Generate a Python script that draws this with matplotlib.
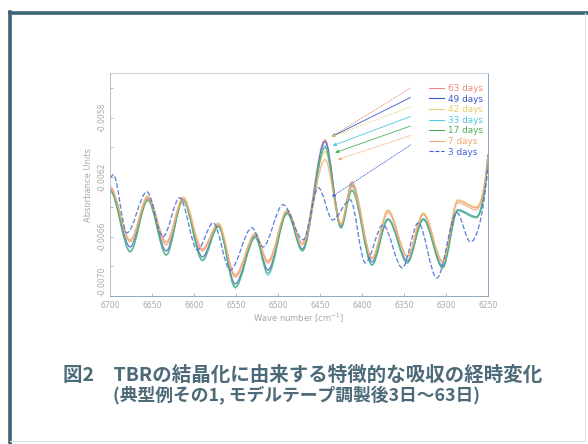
import matplotlib
matplotlib.use("Agg")
import matplotlib.pyplot as plt
from matplotlib.path import Path
from matplotlib.patches import PathPatch
from matplotlib.lines import Line2D
from matplotlib.ticker import MultipleLocator, FixedLocator

# ---------------- data (peak / valley positions) ----------------
WN = [6700, 6676, 6655, 6633, 6613, 6590, 6571, 6551, 6527, 6512, 6489, 6471,
      6444, 6425, 6412, 6388, 6369, 6346, 6327, 6304, 6286, 6264, 6250]

ABS_63 = [-0.006265, -0.006623, -0.006333, -0.006636, -0.006340, -0.006683, -0.006515,
          -0.006858, -0.006582, -0.006764, -0.006427, -0.006643, -0.005949, -0.006515,
          -0.006232, -0.006744, -0.006427, -0.006730, -0.006447, -0.006764, -0.006359,
          -0.006406, -0.006049]
ABS_49 = [-0.006285, -0.006670, -0.006346, -0.006697, -0.006353, -0.006737, -0.006528,
          -0.006919, -0.006595, -0.006825, -0.006440, -0.006683, -0.005962, -0.006528,
          -0.006252, -0.006771, -0.006481, -0.006764, -0.006481, -0.006798, -0.006420,
          -0.006467, -0.006049]
ABS_42 = [-0.006272, -0.006630, -0.006326, -0.006650, -0.006333, -0.006697, -0.006508,
          -0.006872, -0.006575, -0.006778, -0.006420, -0.006649, -0.006029, -0.006515,
          -0.006245, -0.006744, -0.006420, -0.006730, -0.006441, -0.006771, -0.006353,
          -0.006400, -0.006062]
ABS_31 = [-0.006292, -0.006697, -0.006353, -0.006724, -0.006353, -0.006764, -0.006528,
          -0.006946, -0.006602, -0.006859, -0.006440, -0.006696, -0.005989, -0.006541,
          -0.006286, -0.006791, -0.006481, -0.006777, -0.006481, -0.006811, -0.006420,
          -0.006467, -0.006069]
ABS_17 = [-0.006292, -0.006704, -0.006359, -0.006724, -0.006360, -0.006757, -0.006535,
          -0.006939, -0.006608, -0.006845, -0.006447, -0.006696, -0.006002, -0.006541,
          -0.006292, -0.006791, -0.006488, -0.006777, -0.006488, -0.006811, -0.006427,
          -0.006474, -0.006076]
ABS_7 = [-0.006272, -0.006636, -0.006346, -0.006657, -0.006353, -0.006697, -0.006521,
         -0.006872, -0.006588, -0.006778, -0.006427, -0.006656, -0.006083, -0.006521,
         -0.006265, -0.006751, -0.006441, -0.006737, -0.006454, -0.006771, -0.006373,
         -0.006420, -0.006056]

WN_3 = [6700, 6696, 6680, 6656, 6637, 6617, 6596, 6577, 6557, 6531, 6518, 6494,
        6470, 6452, 6435, 6414, 6396, 6375, 6352, 6333, 6311, 6287, 6271, 6250]
ABS_3 = [-0.006204, -0.006184, -0.006575, -0.006299, -0.006602, -0.006339, -0.006690,
         -0.006508, -0.006825, -0.006541, -0.006670, -0.006386, -0.006622, -0.006272,
         -0.006488, -0.006353, -0.006777, -0.006521, -0.006811, -0.006508, -0.006879,
         -0.006440, -0.006636, -0.006130]

SERIES_LABELS = ["63 days", "49 days", "42 days", "33 days", "17 days", "7 days", "3 days"]
# arrow targets (wavenumber, absorbance) near the 6450 band
ARROW_WN = [6436, 6436, 6436, 6435, 6432, 6429, 6436]
ARROW_ABS = [-0.005928, -0.005928, -0.005928, -0.005989, -0.006036, -0.006083, -0.006332]

X_TICKS = [6700, 6650, 6600, 6550, 6500, 6450, 6400, 6350, 6300, 6250]
Y_TICKS = [-0.0070, -0.0066, -0.0062, -0.0058]

# ---------------- styles ----------------
COLORS = ["#f0877c", "#3a58cc", "#e8cf6a", "#4fcbe6", "#4cae5a", "#f2a679", "#3b62d8"]
STYLES = ["-", "-", "-", "-", "-", "-", "--"]

plt.rcParams['font.family'] = ['DejaVu Sans']
fig = plt.figure(figsize=(5.88, 4.44), dpi=100)
fig.patch.set_facecolor("white")

W, H = 588, 444
ax = fig.add_axes([110 / W, 1 - 296 / H, 378 / W, 223 / H])


def smooth_path(xs, ys):
    verts = [(xs[0], ys[0])]
    codes = [Path.MOVETO]
    n = len(xs)
    for i in range(1, n):
        x0, y0, x1, y1 = xs[i - 1], ys[i - 1], xs[i], ys[i]
        dx = x1 - x0
        if i == n - 1:
            c1 = (x0 + dx / 2, y0)
            c2 = (x1 - dx / 6, y0 + (y1 - y0) * 0.6)
        else:
            c1 = (x0 + dx / 3, y0)
            c2 = (x0 + 2 * dx / 3, y1)
        verts += [c1, c2, (x1, y1)]
        codes += [Path.CURVE4] * 3
    return Path(verts, codes)


series = [(WN, ABS_63), (WN, ABS_49), (WN, ABS_42), (WN, ABS_31),
          (WN, ABS_17), (WN, ABS_7), (WN_3, ABS_3)]
draw_order = [6, 5, 4, 3, 2, 0, 1]
for i in draw_order:
    xs, ys = series[i]
    p = PathPatch(smooth_path(xs, ys), fill=False, edgecolor=COLORS[i],
                  lw=0.95, linestyle=STYLES[i], alpha=0.8, zorder=2 + i * 0.01)
    ax.add_patch(p)

ax.set_xlim(6700, 6250)
ax.set_ylim(-0.0070, -0.0055)

ax.xaxis.set_major_locator(FixedLocator(X_TICKS))
ax.set_xticklabels([str(v) for v in X_TICKS])
ax.yaxis.set_major_locator(FixedLocator(Y_TICKS))
ax.set_yticklabels([f"{v:.4f}" for v in Y_TICKS], rotation=90, va="center")
ax.get_yticklabels()[0].set_va("bottom")
ax.yaxis.set_minor_locator(MultipleLocator(0.0002))

tick_col = "#a8a8a8"
ax.tick_params(axis="both", which="both", direction="in", length=2.5, width=0.6,
               colors="#9fb3c0", labelcolor=tick_col, labelsize=5.5)
ax.tick_params(axis="x", pad=3.5)
ax.tick_params(axis="y", pad=2.5)
for s in ax.spines.values():
    s.set_color("#c4d2da")
    s.set_linewidth(0.7)
ax.spines["bottom"].set_color("#8fa8b8")
ax.spines["left"].set_color("#b0c2cc")
ax.spines["right"].set_color("#8fa8c8")

ax.set_xlabel("Wave number [cm$^{-1}$]", fontsize=6, color=tick_col, labelpad=1.5)
ax.set_ylabel("Absorbance Units", fontsize=6, color=tick_col, labelpad=3)

# legend
handles = [Line2D([], [], color=COLORS[i], lw=0.8, linestyle=STYLES[i]) for i in range(7)]
leg = ax.legend(handles, SERIES_LABELS, loc="upper right", bbox_to_anchor=(1.0, 0.975),
                frameon=False, fontsize=6.4, handlelength=1.7, handletextpad=0.4,
                labelspacing=0.18, borderaxespad=0.2)
for t, c in zip(leg.get_texts(), COLORS):
    t.set_color(c)

# arrows from legend to the band
for i in range(7):
    start = (0.795, (296 - (88 + i * 9.5)) / 223)
    ax.annotate("", xy=(ARROW_WN[i], ARROW_ABS[i]), xycoords="data",
                xytext=start, textcoords="axes fraction",
                arrowprops=dict(arrowstyle="-|>", color=COLORS[i], lw=0.6,
                                mutation_scale=5, shrinkA=0, shrinkB=0,
                                linestyle=":" if i in (0, 2, 5, 6) else "-"),
                zorder=5)

# outer frame of the scanned figure
frame_col = "#3f6476"
fig.add_artist(Line2D([10 / W, 10 / W], [0, 1 - 12 / H], transform=fig.transFigure,
                      color=frame_col, lw=2.6))
fig.add_artist(Line2D([10 / W, 1], [1 - 13 / H, 1 - 13 / H], transform=fig.transFigure,
                      color=frame_col, lw=2.6))
fig.add_artist(Line2D([585 / W, 585 / W], [1 - 441 / H, 1 - 13 / H], transform=fig.transFigure,
                      color="#d8e4ea", lw=0.8))
fig.add_artist(Line2D([10 / W, 585 / W], [1 - 441 / H, 1 - 441 / H], transform=fig.transFigure,
                      color="#d8e4ea", lw=0.8))

# caption
cap_font = ["Noto Sans CJK JP", "DejaVu Sans"]
cap_col = "#4d6a78"
fig.text(303 / W, 1 - 375 / H, "図2　TBRの結晶化に由来する特徴的な吸収の経時変化",
         ha="center", va="center", fontsize=14, color=cap_col, family=cap_font,
         fontweight="bold")
fig.text(297 / W, 1 - 396 / H, "(典型例その1, モデルテープ調製後3日～63日)",
         ha="center", va="center", fontsize=12.8, color=cap_col, family=cap_font,
         fontweight="bold")

fig.savefig("out.png", dpi=100, facecolor="white")
